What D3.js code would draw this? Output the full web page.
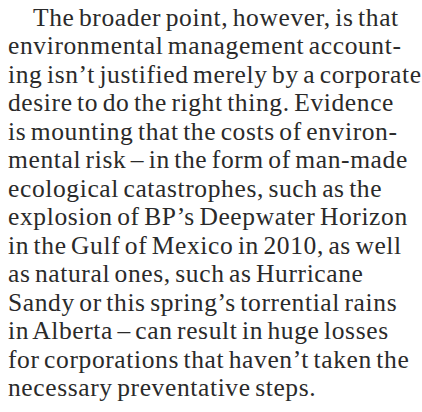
<!DOCTYPE html>
<html>
<head>
<meta charset="utf-8">
<script src="https://cdn.jsdelivr.net/npm/d3@7"></script>
<style>
  html, body { margin: 0; padding: 0; background: #fff; }
  svg { display: block; }
  .line {
    font-family: "Liberation Serif", "DejaVu Serif", serif;
    font-size: 25.5px;
    fill: #2a2a2a;
    letter-spacing: 0.62px;
    word-spacing: -2.5px;
  }
</style>
</head>
<body>
<div id="chart"></div>
<script>
// paragraph, one entry per printed line
const lines = [
  "The broader point, however, is that",
  "environmental management account-",
  "ing isn\u2019t justified merely by a corporate",
  "desire to do the right thing. Evidence",
  "is mounting that the costs of environ-",
  "mental risk \u2013 in the form of man-made",
  "ecological catastrophes, such as the",
  "explosion of BP\u2019s Deepwater Horizon",
  "in the Gulf of Mexico in 2010, as well",
  "as natural ones, such as Hurricane",
  "Sandy or this spring\u2019s torrential rains",
  "in Alberta \u2013 can result in huge losses",
  "for corporations that haven\u2019t taken the",
  "necessary preventative steps."
];
// lines that open a paragraph get an indent
const indented = [0];

drawParagraph();

function drawParagraph () {
  const width = 422;
  const height = 412;
  const left = 8;
  const indent = 25;

  const svg = d3.select("#chart")
    .append("svg")
      .attr("width", width)
      .attr("height", height);

  const y = d3.scalePoint()
    .domain(d3.range(lines.length))
    .range([26, 396]);

  svg.selectAll("text.line")
    .data(lines)
    .enter().append("text")
      .attr("class", "line")
      .attr("x", (d, i) => indented.includes(i) ? left + indent : left)
      .attr("y", (d, i) => y(i))
      .text(d => d);
}
</script>
</body>
</html>
